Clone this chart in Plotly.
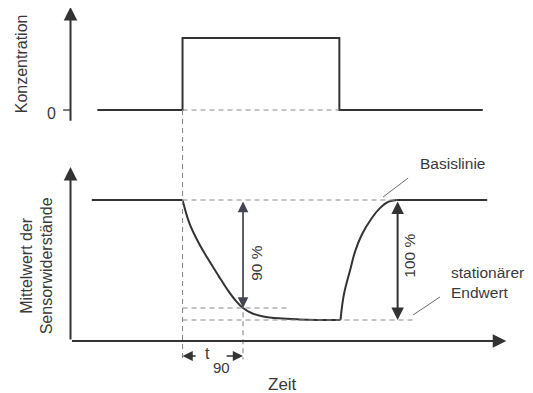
import plotly.graph_objects as go

# ---------------- data ----------------
# time axis in arbitrary units, gas on at T_ON, off at T_OFF
T_ON = 5.0
T_OFF = 12.0
T90 = 7.7
T_AXIS_END = 19.45

# concentration step (top panel)
conc_t = [1.2, 5.0, 5.0, 12.0, 12.0, 18.4]
conc_v = [0, 0, 1, 1, 0, 0]

# mean sensor resistance, normalised: baseline = 100, stationary end value = 0
R_BASE = 100
R_END = 0
R_90 = 10
pre_t = [0.95, 5.0]
pre_r = [100, 100]
decay_t = [5.0, 5.3, 5.7, 6.1, 6.6, 7.05, 7.4, 7.7, 8.1, 8.6, 9.3, 10.2, 11.0, 12.05]
decay_r = [100, 81, 65, 52, 37, 24, 15.5, 10, 5.6, 3.0, 1.4, 0.5, 0.1, 0]
rise_t = [12.05, 12.2, 12.5, 12.7, 13.0, 13.45, 13.8, 14.2, 14.55]
rise_r = [0, 21, 43, 57, 71, 85, 93, 98.6, 100]
post_t = [14.55, 18.6]
post_r = [100, 100]

# ---------------- styling ----------------
W, H = 533, 393
LINE = "#333333"
DASH = "#8a8a8a"
TXT = "#3a3a3a"
FONT = "Liberation Sans, Arial, sans-serif"
DASHPAT = "5px,4px"

fig = go.Figure()

fig.add_trace(go.Scatter(x=conc_t, y=conc_v, mode="lines", yaxis="y",
                         line=dict(color=LINE, width=2), hoverinfo="skip"))
for tt, rr, shape in [(pre_t, pre_r, "linear"), (decay_t, decay_r, "spline"),
                      (rise_t, rise_r, "spline"), (post_t, post_r, "linear")]:
    fig.add_trace(go.Scatter(x=tt, y=rr, mode="lines", yaxis="y2",
                             line=dict(color=LINE, width=2, shape=shape, smoothing=1.0),
                             hoverinfo="skip"))

shapes = []
def dline(x0, y0, x1, y1, yref, color=DASH, dash=DASHPAT, width=1.1):
    shapes.append(dict(type="line", xref="x", yref=yref, x0=x0, y0=y0, x1=x1, y1=y1,
                       line=dict(color=color, width=width, dash=dash)))

# dashed helper lines
dline(T_ON, 0, T_OFF, 0, "y")                 # zero level continued under the step
dline(T_ON, 0, T_ON, -3.47, "y")              # vertical at gas-on through both panels
dline(T90, 14, T90, -33, "y2")                # vertical at t90
dline(T_ON, R_BASE, 14.6, R_BASE, "y2")       # baseline
dline(T_ON, R_90, 9.8, R_90, "y2")            # 90 % level
dline(T_ON, R_END, 15.4, R_END, "y2")         # end value
# tick at zero concentration
dline(-0.33, 0, 0, 0, "y", color=LINE, dash="solid", width=1.3)
# leader lines
dline(13.95, 102.5, 15.07, 118.3, "y2", color="#6a6a6a", dash="solid", width=1)
dline(15.29, 4.2, 16.49, 19.2, "y2", color="#6a6a6a", dash="solid", width=1)

ann = []
def arrow(x0, y0, x1, y1, yref, both=False, width=1.8, size=1.35, color=LINE):
    a = dict(x=x1, y=y1, ax=x0, ay=y0, xref="x", yref=yref, axref="x", ayref=yref,
             text="", showarrow=True, arrowhead=2, arrowsize=size, arrowwidth=width,
             arrowcolor=color, standoff=0, startstandoff=0)
    if both:
        a.update(arrowside="end+start", startarrowhead=2, startarrowsize=size)
    ann.append(a)

# axes
arrow(0, -0.17, 0, 1.43, "y", width=2)
arrow(0, -17.5, 0, 127.5, "y2", width=2)
arrow(0, -17.5, T_AXIS_END, -17.5, "y2", width=2)
# measurement arrows
arrow(T90, R_BASE, T90, R_90, "y2", both=True, width=1.7, size=1.25, color="#454552")
arrow(14.6, R_BASE, 14.6, R_END, "y2", both=True, width=2, size=1.25)
arrow(5.65, -30, T_ON, -30, "y2", width=1.7, size=1.2)
arrow(6.9, -30, T90, -30, "y2", width=1.7, size=1.2)

def label(text, x, y, yref, size=16, angle=0, xanchor="center", align="center", yshift=0):
    ann.append(dict(text=text, x=x, y=y, xref="x", yref=yref, showarrow=False,
                    textangle=angle, xanchor=xanchor, yanchor="middle", align=align,
                    yshift=yshift, font=dict(family=FONT, size=size, color=TXT)))

label("Konzentration", -2.15, 0.64, "y", size=16, angle=-90)
label("0", -0.83, 0, "y", size=16, yshift=-3)
label("Mittelwert der<br>Sensorwiderstände", -1.5, 45.5, "y2", size=16, angle=-90)
label("Basislinie", 17.03, 130.8, "y2", size=15.5)
label("stationärer<br>Endwert", 16.9, 31, "y2", size=15.5, xanchor="left", align="left")
label("90 %", 8.27, 47.5, "y2", size=15.5, angle=-90)
label("100 %", 15.15, 53.5, "y2", size=15.5, angle=-90)
label("t", 6.1, -28, "y2", size=16)
label("90", 6.72, -39.5, "y2", size=15)
label("Zeit", 9.44, -54, "y2", size=17)

# the page has an 8 px body margin, so the ranges are chosen to map the
# data onto the same window positions as in the reference
fig.update_layout(
    width=W, height=H, margin=dict(l=0, r=0, t=0, b=0),
    paper_bgcolor="white", plot_bgcolor="white", showlegend=False,
    xaxis=dict(range=[-2.79, 21.0], visible=False, fixedrange=True),
    yaxis=dict(range=[-4.0417, 1.4167], visible=False, domain=[0, 1], fixedrange=True),
    yaxis2=dict(range=[-67.5, 260.0], visible=False, overlaying="y", fixedrange=True),
    shapes=shapes, annotations=ann,
)

fig.write_html("out.html", config={"displayModeBar": False})
